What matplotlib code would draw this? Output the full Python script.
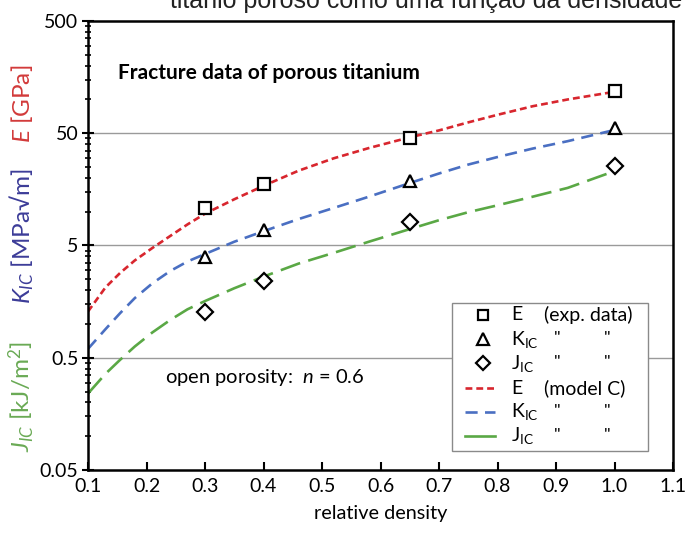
import matplotlib
matplotlib.use('Agg')
import matplotlib.pyplot as plt
from matplotlib.ticker import FixedLocator, NullFormatter
from matplotlib.lines import Line2D
from matplotlib.patches import Rectangle

plt.rcParams['font.family'] = ['Lato', 'DejaVu Sans']
plt.rcParams['mathtext.fontset'] = 'custom'
plt.rcParams['mathtext.rm'] = 'Lato'
plt.rcParams['mathtext.it'] = 'Lato:italic'
plt.rcParams['mathtext.bf'] = 'Lato:bold'

# experimental data (relative density vs property)
rho_exp = [0.3, 0.4, 0.65, 1.0]
E_exp = [10.9, 17.7, 45.4, 119]
K_exp = [3.96, 6.9, 18.8, 55.7]
J_exp = [1.28, 2.42, 8.1, 25.6]

# model C curves
rho_mod = [0.1, 0.13, 0.155, 0.18, 0.21, 0.24, 0.27, 0.3, 0.35, 0.4, 0.46,
           0.52, 0.58, 0.65, 0.7, 0.75, 0.8, 0.86, 0.92, 1.0]
E_mod = [1.29, 2.12, 2.85, 3.68, 4.75, 6.05, 7.7, 9.6, 12.9, 17.0, 23.2,
         29.9, 36.9, 46.0, 53.0, 62.5, 73.0, 87.0, 100.0, 117.0]
K_mod = [0.6, 0.9, 1.25, 1.7, 2.3, 2.95, 3.6, 4.2, 5.4, 6.7, 8.6,
         10.8, 13.6, 18.0, 21.9, 26.3, 30.7, 36.5, 42.5, 53.5]
J_mod = [0.24, 0.36, 0.48, 0.63, 0.84, 1.08, 1.35, 1.6, 2.08, 2.64, 3.45,
         4.3, 5.4, 7.0, 8.4, 9.9, 11.4, 13.6, 16.3, 23.0]

x_ticks = [0.1, 0.2, 0.3, 0.4, 0.5, 0.6, 0.7, 0.8, 0.9, 1.0, 1.1]
y_ticks = [0.05, 0.5, 5, 50, 500]
y_ticklabels = ['0.05', '0.5', '5', '50', '500']

red = '#d8262e'
blue = '#4a6fc2'
green = '#5aa845'

fig = plt.figure(figsize=(6.86, 5.41), dpi=100)
ax = fig.add_axes([88 / 686, 71 / 541, 585 / 686, 449 / 541])

ax.set_yscale('log')
ax.set_xlim(0.1, 1.1)
ax.set_ylim(0.05, 500)

for yv in [0.5, 5, 50]:
    ax.axhline(yv, color='#9a9a9a', lw=1.0, zorder=1)

ax.plot(rho_mod, E_mod, color=red, lw=1.9, dashes=(2.6, 1.5), zorder=2)
ax.plot(rho_mod, K_mod, color=blue, lw=1.9, dashes=(4.6, 2.8), zorder=2)
ax.plot(rho_mod, J_mod, color=green, lw=1.9, dashes=(7.8, 3.2), zorder=2)

mk = dict(mfc='white', mec='black', mew=1.6, ls='none')
ax.plot(rho_exp, E_exp, marker='s', ms=8.5, zorder=3, **mk)
ax.plot(rho_exp, K_exp, marker='^', ms=9, zorder=3, **mk)
ax.plot(rho_exp, J_exp, marker='D', ms=8, zorder=3, **mk)

ax.set_xticks(x_ticks)
ax.set_xticklabels(['%.1f' % v for v in x_ticks], fontsize=14)
ax.yaxis.set_major_locator(FixedLocator(y_ticks))
ax.set_yticklabels(y_ticklabels, fontsize=14)
minors = [0.05 * 10 ** d * k for d in range(4) for k in range(2, 10)]
ax.yaxis.set_minor_locator(FixedLocator(minors))
ax.yaxis.set_minor_formatter(NullFormatter())
ax.tick_params(axis='x', direction='in', length=6, width=1.5, pad=6)
ax.tick_params(axis='y', which='major', direction='inout', length=8, width=1.5, pad=3)
ax.tick_params(axis='y', which='minor', direction='inout', length=5, width=1.2)
for s in ax.spines.values():
    s.set_linewidth(1.8)

ax.set_xlabel('relative density', fontsize=14.3, labelpad=7)

ax.text(0.052, 0.885, 'Fracture data of porous titanium', transform=ax.transAxes,
        fontsize=15, fontweight='bold', va='center')
ax.text(0.132, 0.205, r'open porosity:  $n$ = 0.6', transform=ax.transAxes,
        fontsize=14.5, va='center')

# y-axis labels, three colours stacked
fig.text(22 / 686, 1 - 104 / 541, r'$E$ [GPa]', color='#d23a3a', rotation=90,
         fontsize=17.5, ha='center', va='center')
fig.text(22 / 686, 1 - 236 / 541, r'$K_{IC}$ [MPa√m]', color='#3c3c98', rotation=90,
         fontsize=17.5, ha='center', va='center')
fig.text(22 / 686, 1 - 397 / 541, r'$J_{IC}$ [kJ/m$^2$]', color='#6aaa55', rotation=90,
         fontsize=17.5, ha='center', va='center')

# legend box drawn by hand
def ax_xy(px, py):
    return (px - 88) / 585, (470 - py) / 449

x0, y0 = ax_xy(452, 451)
x1, y1 = ax_xy(648, 303)
ax.add_patch(Rectangle((x0, y0), x1 - x0, y1 - y0, transform=ax.transAxes,
                       facecolor='white', edgecolor='#8a8a8a', lw=1.0, zorder=4))
rows_py = [315, 339, 363, 388, 412, 436]
names = ['E', r'K$_{\mathregular{IC}}$', r'J$_{\mathregular{IC}}$',
         'E', r'K$_{\mathregular{IC}}$', r'J$_{\mathregular{IC}}$']
leg_markers = [('s', 7.5), ('^', 8), ('D', 7)]
leg_lines = [(red, (2.6, 1.5)), (blue, (4.6, 2.8)), (green, None)]
for i, py in enumerate(rows_py):
    xm, ym = ax_xy(483, py)
    if i < 3:
        m, s = leg_markers[i]
        ax.add_line(Line2D([xm], [ym], marker=m, ms=s, transform=ax.transAxes,
                           zorder=5, **mk))
    else:
        c, d = leg_lines[i - 3]
        xa, _ = ax_xy(465, py)
        xb, _ = ax_xy(495, py)
        ln = Line2D([xa, xb], [ym, ym], color=c, lw=1.9,
                    transform=ax.transAxes, zorder=5)
        if d is not None:
            ln.set_dashes(d)
        ax.add_line(ln)
    xt, _ = ax_xy(511, py)
    ax.text(xt, ym, names[i], transform=ax.transAxes, fontsize=14,
            va='center', ha='left', zorder=6)
    if i == 0 or i == 3:
        xc, _ = ax_xy(544, py)
        ax.text(xc, ym, '(exp. data)' if i == 0 else '(model C)',
                transform=ax.transAxes, fontsize=14, va='center', ha='left', zorder=6)
    else:
        for pxd in (557, 607):
            xd, _ = ax_xy(pxd, py)
            ax.text(xd, ym, '"', transform=ax.transAxes, fontsize=13,
                    va='center', ha='center', zorder=6)

# cropped caption at the very top
fig.text(170 / 686, 1 - 8 / 541, 'titânio poroso como uma função da densidade',
         family=['Liberation Sans', 'DejaVu Sans'], fontsize=18,
         ha='left', va='baseline', color='#222222')

fig.savefig('out.png', dpi=100)
